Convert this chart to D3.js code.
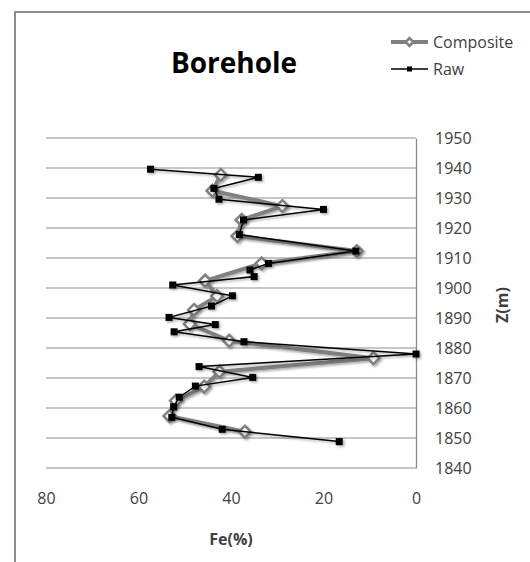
<!DOCTYPE html>
<html>
<head>
<meta charset="utf-8">
<script src="https://cdn.jsdelivr.net/npm/d3@7"></script>
<style>
  html, body { margin: 0; padding: 0; background: #fff; }
  svg { display: block; font-family: "Open Sans", "Noto Sans", sans-serif; }
</style>
</head>
<body>
<div id="chart"></div>
<script>
// ---- data ----
const seriesNames = ["Composite", "Raw"];
const compositeFe = [42.2, 44.0, 28.9, 37.7, 38.6, 12.8, 33.4, 45.6, 43.0, 48.0, 48.9, 40.4, 9.2, 42.5, 45.8, 51.9, 53.3, 37.0];
const compositeZ  = [1937.7, 1932.4, 1927.3, 1922.7, 1917.3, 1912.3, 1908.2, 1902.4, 1897.3, 1892.7, 1888.0, 1882.4, 1876.6, 1872.1, 1867.1, 1862.4, 1857.3, 1852.1];
const rawFe = [57.4, 34.1, 43.7, 42.6, 20.0, 37.3, 38.2, 13.0, 31.9, 35.9, 35.0, 52.6, 39.7, 44.2, 53.4, 43.4, 52.3, 37.2, 0.0, 46.9, 35.3, 47.7, 51.2, 52.4, 52.8, 41.9, 16.6];
const rawZ  = [1939.6, 1936.9, 1933.2, 1929.6, 1926.2, 1922.7, 1917.8, 1912.3, 1908.2, 1906.0, 1903.8, 1901.0, 1897.4, 1894.0, 1890.2, 1887.8, 1885.4, 1882.1, 1878.0, 1873.8, 1870.2, 1867.3, 1863.6, 1860.4, 1856.9, 1852.9, 1848.8];
const xTicks = [80, 60, 40, 20, 0];
const yTicks = [1840, 1850, 1860, 1870, 1880, 1890, 1900, 1910, 1920, 1930, 1940, 1950];
const titleText = "Borehole";
const xTitle = "Fe(%)";
const yTitle = "Z(m)";

// ---- layout ----
const W = 530, H = 562;
const plot = { left: 46, right: 416, top: 138, bottom: 468 };

const svg = d3.select("#chart").append("svg").attr("width", W).attr("height", H);

const defs = svg.append("defs");
const f = defs.append("filter").attr("id", "shadow").attr("x", "-20%").attr("y", "-20%").attr("width", "140%").attr("height", "140%");
f.append("feDropShadow").attr("dx", 1.5).attr("dy", 1.5).attr("stdDeviation", 1.2)
  .attr("flood-color", "#000").attr("flood-opacity", 0.35);

// chart frame (left and top borders)
svg.append("path").attr("d", `M15,${H} L15,12 L${W},12`)
  .attr("fill", "none").attr("stroke", "#8c8c8c").attr("stroke-width", 2);

const x = d3.scaleLinear().domain([80, 0]).range([plot.left, plot.right]);
const y = d3.scaleLinear().domain([1840, 1950]).range([plot.bottom, plot.top]);

// gridlines
svg.append("g").selectAll("line").data(yTicks).join("line")
  .attr("x1", plot.left).attr("x2", plot.right)
  .attr("y1", d => y(d)).attr("y2", d => y(d))
  .attr("stroke", "#b3b3b3").attr("stroke-width", 1.3);

// right y axis
const yAxis = svg.append("g").attr("transform", `translate(${plot.right},0)`)
  .call(d3.axisRight(y).tickValues(yTicks).tickSize(0).tickPadding(19).tickFormat(d3.format("d")));
yAxis.select(".domain").attr("stroke", "#8c8c8c").attr("stroke-width", 1.3);
yAxis.selectAll("text").attr("font-size", 16).attr("fill", "#404040").attr("font-family", "'Open Sans', sans-serif");

// bottom x axis (labels only)
const xAxis = svg.append("g").attr("transform", `translate(0,${plot.bottom})`)
  .call(d3.axisBottom(x).tickValues(xTicks).tickSize(0).tickPadding(25).tickFormat(d3.format("d")));
xAxis.select(".domain").remove();
xAxis.selectAll("text").attr("font-size", 16).attr("fill", "#404040").attr("font-family", "'Open Sans', sans-serif");

// series
const compData = compositeFe.map((v, i) => ({ fe: v, z: compositeZ[i] }));
const rawData = rawFe.map((v, i) => ({ fe: v, z: rawZ[i] }));
const line = d3.line().x(d => x(d.fe)).y(d => y(d.z));

const gComp = svg.append("g").attr("filter", "url(#shadow)");
gComp.append("path").datum(compData).attr("d", line)
  .attr("fill", "none").attr("stroke", "#808080").attr("stroke-width", 4).attr("stroke-linejoin", "round");
gComp.selectAll("path.mk").data(compData).join("path").attr("class", "mk")
  .attr("d", d3.symbol().type(d3.symbolSquare).size(70))
  .attr("transform", d => `translate(${x(d.fe)},${y(d.z)}) rotate(45)`)
  .attr("fill", "#fff").attr("stroke", "#808080").attr("stroke-width", 2.5);

const gRaw = svg.append("g").attr("filter", "url(#shadow)");
gRaw.append("path").datum(rawData).attr("d", line)
  .attr("fill", "none").attr("stroke", "#000").attr("stroke-width", 1.5);
gRaw.selectAll("rect").data(rawData).join("rect")
  .attr("x", d => x(d.fe) - 3.5).attr("y", d => y(d.z) - 3.5)
  .attr("width", 7).attr("height", 7).attr("fill", "#000");

// title
svg.append("text").attr("x", 234).attr("y", 73).attr("text-anchor", "middle")
  .attr("font-size", 28).attr("font-weight", "bold").attr("fill", "#000").text(titleText);

// axis titles
svg.append("text").attr("x", (plot.left + plot.right) / 2).attr("y", 545).attr("text-anchor", "middle")
  .attr("font-size", 16).attr("font-weight", "bold").attr("fill", "#404040").text(xTitle);
svg.append("text").attr("transform", `translate(508,${(plot.top + plot.bottom) / 2 + 2}) rotate(-90)`)
  .attr("text-anchor", "middle").attr("font-size", 16).attr("font-weight", "bold").attr("fill", "#404040").text(yTitle);

// legend
const legend = svg.append("g");
const legY = [42, 69];
seriesNames.forEach((name, i) => {
  const g = legend.append("g").attr("transform", `translate(0,${legY[i]})`);
  if (i === 0) {
    g.append("line").attr("x1", 391).attr("x2", 428).attr("stroke", "#808080").attr("stroke-width", 4);
    g.append("path").attr("d", d3.symbol().type(d3.symbolSquare).size(30))
      .attr("transform", "translate(409.5,0) rotate(45)")
      .attr("fill", "#fff").attr("stroke", "#808080").attr("stroke-width", 2.5);
  } else {
    g.append("line").attr("x1", 391).attr("x2", 428).attr("stroke", "#000").attr("stroke-width", 1.3);
    g.append("rect").attr("x", 407).attr("y", -2.5).attr("width", 5).attr("height", 5).attr("fill", "#000");
  }
  g.append("text").attr("x", 433).attr("y", 0).attr("dy", "0.35em")
    .attr("font-size", 16).attr("fill", "#404040").text(name);
});
</script>
</body>
</html>
